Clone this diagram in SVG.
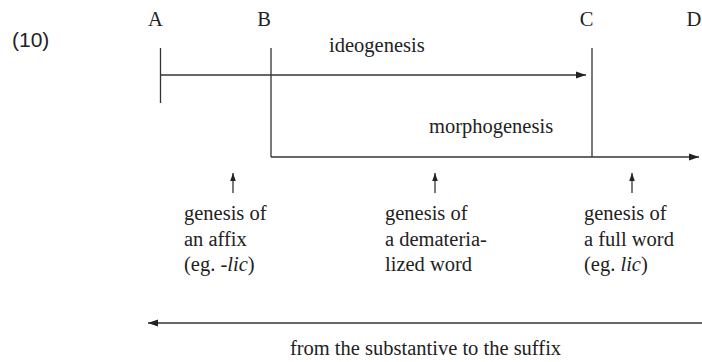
<svg xmlns="http://www.w3.org/2000/svg" width="702" height="362" viewBox="0 0 702 362">
<defs>
<style>
.t{font-family:"Liberation Serif","Times New Roman",serif;font-size:20.5px;fill:#222}
.s{font-family:"Liberation Sans",Arial,sans-serif;font-size:21px;fill:#222}
.l{stroke:#333;stroke-width:1.3;fill:none}
</style>
<marker id="ah" viewBox="0 0 10 10" refX="10" refY="5" markerWidth="10" markerHeight="10" markerUnits="userSpaceOnUse" orient="auto">
<path d="M0,1.5 L10,5 L0,8.5 Z" fill="#222"/>
</marker>
<marker id="sh" viewBox="0 0 10 10" refX="10" refY="5" markerWidth="8" markerHeight="8" markerUnits="userSpaceOnUse" orient="auto">
<path d="M0,1.5 L10,5 L0,8.5 Z" fill="#222"/>
</marker>
</defs>
<rect width="702" height="362" fill="#fff"/>
<text class="s" x="12" y="47">(10)</text>
<g id="A"><text class="t" x="155.5" y="26" text-anchor="middle">A</text></g>
<g id="B"><text class="t" x="264" y="26" text-anchor="middle">B</text></g>
<g id="C"><text class="t" x="586.5" y="26" text-anchor="middle">C</text></g>
<g id="D"><text class="t" x="694" y="26" text-anchor="middle">D</text></g>
<g id="connectors">
<line class="l" x1="160.5" y1="48" x2="160.5" y2="103"/>
<line class="l" x1="271" y1="48" x2="271" y2="157"/>
<line class="l" x1="592" y1="48" x2="592" y2="157"/>
<line class="l" x1="160.5" y1="75" x2="586" y2="75" marker-end="url(#ah)"/>
<line class="l" x1="271" y1="157" x2="699" y2="157" marker-end="url(#ah)"/>
<line class="l" x1="233" y1="193" x2="233" y2="173" marker-end="url(#sh)"/>
<line class="l" x1="435" y1="193" x2="435" y2="173" marker-end="url(#sh)"/>
<line class="l" x1="632" y1="193" x2="632" y2="173" marker-end="url(#sh)"/>
<line class="l" x1="702" y1="323" x2="148" y2="323" marker-end="url(#ah)"/>
</g>
<g id="ideogenesis"><text class="t" x="329" y="52">ideogenesis</text></g>
<g id="morphogenesis"><text class="t" x="429" y="133">morphogenesis</text></g>
<g id="affix">
<text class="t" x="184" y="220">genesis of</text>
<text class="t" x="184" y="245.5">an affix</text>
<text class="t" x="184" y="271">(eg. -<tspan font-style="italic">lic</tspan>)</text>
</g>
<g id="dematerialized">
<text class="t" x="385" y="220">genesis of</text>
<text class="t" x="385" y="245.5">a demateria-</text>
<text class="t" x="385" y="271">lized word</text>
</g>
<g id="fullword">
<text class="t" x="584" y="220">genesis of</text>
<text class="t" x="584" y="245.5">a full word</text>
<text class="t" x="584" y="271">(eg. <tspan font-style="italic">lic</tspan>)</text>
</g>
<g id="direction"><text class="t" x="425.5" y="355" text-anchor="middle">from the substantive to the suffix</text></g>
</svg>
